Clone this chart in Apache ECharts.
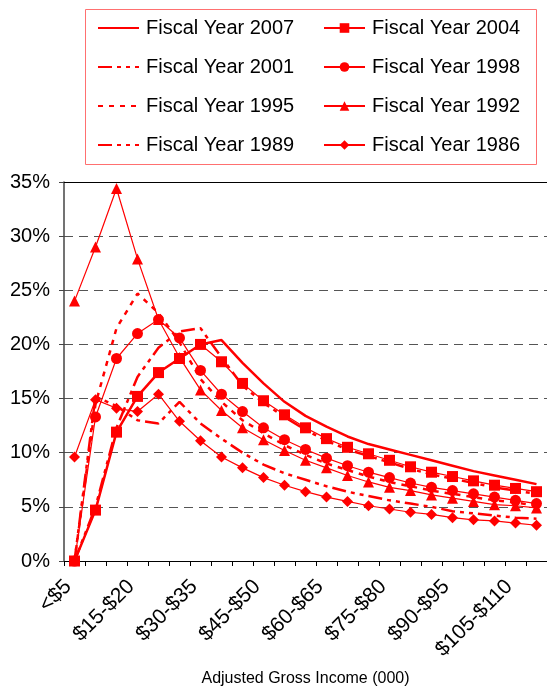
<!DOCTYPE html>
<html lang="en">
<head>
    <meta charset="UTF-8">
    <title>Fiscal Year AGI distribution</title>
    <script src="https://cdn.jsdelivr.net/npm/echarts@6/dist/echarts.min.js"></script>
    <style>
        html, body { margin: 0; padding: 0; background: #fff; }
        #chart { width: 547px; height: 692px; }
    </style>
</head>
<body>
<div id="chart"></div>
<script>
    // income brackets (000)
    var categories = ['<$5', '$5-$10', '$10-$15', '$15-$20', '$20-$25', '$25-$30', '$30-$35', '$35-$40',
        '$40-$45', '$45-$50', '$50-$55', '$55-$60', '$60-$65', '$65-$70', '$70-$75', '$75-$80',
        '$80-$85', '$85-$90', '$90-$95', '$95-$100', '$100-$105', '$105-$110', '$110-$115'];

    // percent values
    var fy2007 = [0, 4.7, 11.9, 15.2, 17.4, 18.7, 20.0, 20.4, 18.3, 16.4, 14.7, 13.4, 12.4, 11.5, 10.8, 10.3, 9.8, 9.3, 8.8, 8.3, 7.9, 7.5, 7.1];
    var fy2004 = [0, 4.7, 11.9, 15.2, 17.4, 18.7, 20.0, 18.4, 16.4, 14.8, 13.5, 12.3, 11.3, 10.5, 9.9, 9.3, 8.7, 8.2, 7.8, 7.4, 7.0, 6.7, 6.4];
    var fy2001 = [0, 5.0, 12.3, 17.0, 19.7, 21.2, 21.5, 18.8, 16.2, 14.6, 13.3, 12.1, 11.1, 10.3, 9.7, 9.1, 8.5, 8.0, 7.6, 7.2, 6.8, 6.5, 6.2];
    var fy1998 = [0, 13.3, 18.7, 21.0, 22.3, 20.6, 17.6, 15.4, 13.8, 12.3, 11.2, 10.3, 9.5, 8.8, 8.2, 7.7, 7.2, 6.8, 6.5, 6.2, 5.9, 5.6, 5.3];
    var fy1995 = [0, 14.5, 21.5, 24.7, 22.9, 20.2, 16.8, 14.7, 13.0, 11.8, 10.7, 9.8, 9.0, 8.4, 7.8, 7.3, 6.9, 6.5, 6.2, 5.9, 5.6, 5.4, 5.1];
    var fy1992 = [24.0, 29.0, 34.4, 27.9, 22.3, 18.8, 15.8, 13.9, 12.3, 11.2, 10.2, 9.3, 8.6, 7.9, 7.3, 6.8, 6.5, 6.1, 5.8, 5.5, 5.2, 5.1, 4.9];
    var fy1989 = [0, 15.2, 14.3, 13.0, 12.7, 14.7, 12.7, 11.3, 10.0, 8.9, 8.1, 7.5, 6.9, 6.4, 6.0, 5.6, 5.3, 5.0, 4.6, 4.4, 4.2, 4.0, 3.9];
    var fy1986 = [9.6, 14.9, 14.1, 13.8, 15.4, 12.9, 11.1, 9.6, 8.6, 7.7, 7.0, 6.4, 5.9, 5.5, 5.1, 4.8, 4.5, 4.3, 4.0, 3.8, 3.7, 3.5, 3.3];

    var RED = '#ff0000';
    var FONT = '"Liberation Sans", Arial, sans-serif';
    var dashDot = [14, 5, 4, 5, 4, 5];

    function plainLine(name, data, type) {
        return {
            name: name, type: 'line', data: data,
            symbol: 'none', silent: true,
            lineStyle: { color: RED, width: 2.5, type: type },
            itemStyle: { color: RED }
        };
    }
    function markLine(name, data, symbol, size) {
        return {
            name: name, type: 'line', data: data,
            symbol: symbol, symbolSize: size, showAllSymbol: true, silent: true,
            lineStyle: { color: RED, width: 1.2 },
            itemStyle: { color: RED, borderWidth: 0 }
        };
    }
    // legend entry showing only the line, no symbol
    function lineOnly(name) {
        return { name: name, itemStyle: { opacity: 0 } };
    }

    var chart = echarts.init(document.getElementById('chart'));
    var legendText = { fontFamily: FONT, fontSize: 20, color: '#000', padding: [0, 0, 0, 2] };

    var option = {
        animation: false,
        backgroundColor: '#fff',
        grid: { left: 64, top: 182, width: 487, bottom: 120, containLabel: false },
        legend: [
            {
                data: [lineOnly('Fiscal Year 2007'), lineOnly('Fiscal Year 2001'),
                    lineOnly('Fiscal Year 1995'), lineOnly('Fiscal Year 1989')],
                orient: 'vertical', left: 92, top: 13,
                itemWidth: 41, itemHeight: 12, itemGap: 19,
                textStyle: legendText, selectedMode: false
            },
            {
                data: ['Fiscal Year 2004', 'Fiscal Year 1998', 'Fiscal Year 1992', 'Fiscal Year 1986'],
                orient: 'vertical', left: 318, top: 13,
                itemWidth: 41, itemHeight: 12, itemGap: 19,
                textStyle: legendText, selectedMode: false
            }
        ],
        graphic: [{
            type: 'rect', left: 83, top: 7,
            shape: { width: 451, height: 155 },
            style: { fill: 'none', stroke: '#ff7070', lineWidth: 1 }
        }],
        xAxis: [
            {
                type: 'category', data: categories, boundaryGap: true,
                name: 'Adjusted Gross Income (000)', nameLocation: 'middle', nameGap: 110,
                nameTextStyle: { fontFamily: FONT, fontSize: 16, color: '#000' },
                axisLine: { lineStyle: { color: '#000', width: 1 } },
                axisTick: { show: true, interval: 0, length: 5, lineStyle: { color: '#000' } },
                axisLabel: {
                    interval: 2, rotate: 45, margin: 16, padding: [0, 9, 0, 0],
                    fontFamily: FONT, fontSize: 21, color: '#000'
                },
                splitLine: { show: false }
            },
            {
                type: 'category', data: categories, position: 'top',
                axisLine: { lineStyle: { color: '#000', width: 1 } },
                axisTick: { show: false }, axisLabel: { show: false }, splitLine: { show: false }
            }
        ],
        yAxis: {
            type: 'value', min: 0, max: 35, interval: 5,
            axisLine: { show: true, lineStyle: { color: '#444', width: 1.5 } },
            axisTick: { show: true, length: 5, lineStyle: { color: '#444' } },
            axisLabel: { formatter: '{value}%', margin: 14, fontFamily: FONT, fontSize: 20, color: '#000' },
            splitLine: { show: true, lineStyle: { color: '#555', width: 1, type: [9, 6] } }
        },
        series: [
            plainLine('Fiscal Year 2007', fy2007, 'solid'),
            plainLine('Fiscal Year 2001', fy2001, dashDot),
            plainLine('Fiscal Year 1995', fy1995, [5, 6]),
            plainLine('Fiscal Year 1989', fy1989, dashDot),
            markLine('Fiscal Year 2004', fy2004, 'rect', 11),
            markLine('Fiscal Year 1998', fy1998, 'circle', 11),
            markLine('Fiscal Year 1992', fy1992, 'triangle', 11),
            markLine('Fiscal Year 1986', fy1986, 'diamond', 11)
        ]
    };
    chart.setOption(option);
</script>
</body>
</html>
